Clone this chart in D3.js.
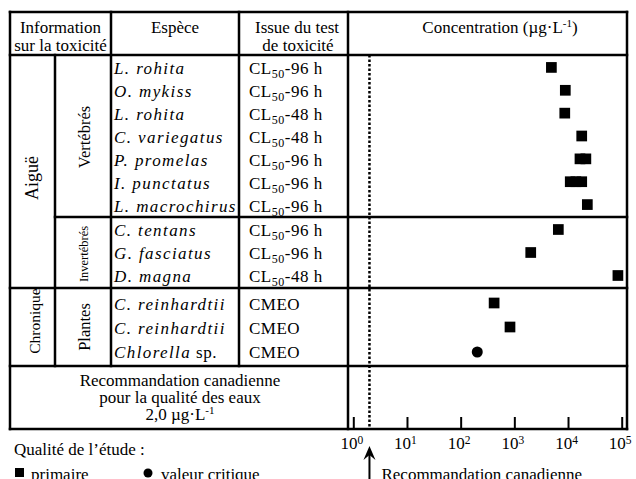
<!DOCTYPE html>
<html>
<head>
<meta charset="utf-8">
<script src="https://cdn.jsdelivr.net/npm/d3@7"></script>
<style>
  body { margin: 0; background: #fff; }
  svg text { font-family: "Liberation Serif", "Times New Roman", serif; fill: #000; }
</style>
</head>
<body>
<svg width="636" height="479"></svg>
<script>
// donnees
var durations = ["Aiguë", "Chronique"];
var subgroups = ["Vertébrés", "Invertébrés", "Plantes"];
var rowDuration = ["Aiguë","Aiguë","Aiguë","Aiguë","Aiguë","Aiguë","Aiguë","Aiguë","Aiguë","Aiguë","Chronique","Chronique","Chronique"];
var rowGroup = ["Vertébrés","Vertébrés","Vertébrés","Vertébrés","Vertébrés","Vertébrés","Vertébrés",
                "Invertébrés","Invertébrés","Invertébrés","Plantes","Plantes","Plantes"];
var species = ["L. rohita","O. mykiss","L. rohita","C. variegatus","P. promelas","I. punctatus","L. macrochirus",
               "C. tentans","G. fasciatus","D. magna","C. reinhardtii","C. reinhardtii","Chlorella"];
var speciesSuffix = ["","","","","","","","","","","","", " sp."];
var endpoints = ["CL50-96 h","CL50-96 h","CL50-48 h","CL50-48 h","CL50-96 h","CL50-96 h","CL50-96 h",
                 "CL50-96 h","CL50-96 h","CL50-48 h","CMEO","CMEO","CMEO"];
var concentrations = [[4900],[8900],[8700],[18000],[16700,21500],[11000,14000,18000],[22900],
                      [6600],[2020],[85000],[420],[830],[204]];
var quality = ["primaire","primaire","primaire","primaire","primaire","primaire","primaire",
               "primaire","primaire","primaire","primaire","primaire","valeur critique"];
var guideline = 2.0;
var tickValues = [1, 10, 100, 1000, 10000, 100000];

var svg = d3.select("svg");

// colonnes et lignes du tableau
var c0 = 10, c1 = 55, c2 = 111, c3 = 239, c4 = 348, c5 = 627;
var top0 = 12, head = 55, g1 = 217, g2 = 288, g3 = 366, bot = 429;

var groupRange = {
  "Vertébrés": [57, 217],
  "Invertébrés": [219, 288],
  "Plantes": [292, 364]
};
var bands = {};
subgroups.forEach(function(g) {
  var ids = [];
  rowGroup.forEach(function(r, i) { if (r == g) ids.push(i); });
  bands[g] = d3.scaleBand().domain(ids).range(groupRange[g]);
});
function rowY(i) {
  var b = bands[rowGroup[i]];
  return b(i) + b.bandwidth() / 2;
}

var x = d3.scaleLog().domain([1, 100000]).range([353.3, 621.7]);

// lignes du tableau
var lw = 2.5;
var lines = [
  [c0, top0, c5, top0], [c0, bot, c5, bot], [c0, top0, c0, bot], [c5, top0, c5, bot],
  [c0, head, c5, head], [c1, g1, c5, g1], [c0, g2, c5, g2], [c0, g3, c5, g3],
  [c1, head, c1, g3], [c2, top0, c2, g3], [c3, top0, c3, g3], [c4, top0, c4, bot]
];
svg.selectAll(".grid")
  .data(lines)
  .enter().append("line")
  .attr("x1", function(d) { return d[0]; })
  .attr("y1", function(d) { return d[1]; })
  .attr("x2", function(d) { return d[2]; })
  .attr("y2", function(d) { return d[3]; })
  .attr("stroke", "#000")
  .attr("stroke-width", lw)
  .attr("stroke-linecap", "square");

// en-tetes
var fs = 17;
function txt(s, xx, yy, anchor) {
  return svg.append("text").attr("x", xx).attr("y", yy)
    .attr("text-anchor", anchor || "middle")
    .style("font-size", fs + "px").text(s);
}
txt("Information", (c0 + c2) / 2, 33);
txt("sur la toxicité", (c0 + c2) / 2, 51);
txt("Espèce", (c2 + c3) / 2, 33);
txt("Issue du test", 297, 33);
txt("de toxicité", 298, 51);
var conc = txt("Concentration (µg·L", 500, 33);
conc.append("tspan").attr("dy", -6).style("font-size", "11px").text("-1");
conc.append("tspan").attr("dy", 6).text(")");

// etiquettes verticales
function vtxt(s, cx, cy, size) {
  svg.append("text")
    .attr("transform", "translate(" + cx + "," + cy + ") rotate(-90)")
    .attr("text-anchor", "middle")
    .attr("dy", "0.35em")
    .style("font-size", size + "px")
    .text(s);
}
vtxt(durations[0], 32, 178, 18);
vtxt(durations[1], 35, 321, 15.5);
vtxt(subgroups[0], 84, 137, 16.5);
vtxt(subgroups[1], 84, 254, 12.5);
vtxt(subgroups[2], 84, 327, 16.5);

// especes
var sp = svg.selectAll(".sp")
  .data(species)
  .enter().append("text")
  .attr("class", "sp")
  .attr("x", 114)
  .attr("y", function(d, i) { return rowY(i); })
  .attr("dy", "0.35em")
  .style("font-size", fs + "px")
  .style("letter-spacing", "1.4px");
sp.append("tspan").style("font-style", "italic").text(function(d) { return d; });
sp.append("tspan").style("letter-spacing", "0.6px").text(function(d, i) { return speciesSuffix[i]; });

// issue du test
var ep = svg.selectAll(".ep")
  .data(endpoints)
  .enter().append("text")
  .attr("class", "ep")
  .attr("x", 249)
  .attr("y", function(d, i) { return rowY(i); })
  .attr("dy", "0.35em")
  .style("font-size", fs + "px")
  .style("letter-spacing", "0.5px");
ep.each(function(d) {
  var t = d3.select(this);
  if (d.indexOf("CL50") == 0) {
    t.append("tspan").text("CL");
    t.append("tspan").attr("dy", 4).style("font-size", "12px").text("50");
    t.append("tspan").attr("dy", -4).text(d.slice(4));
  } else {
    t.text(d);
  }
});

// recommandation
txt("Recommandation canadienne", 180, 386);
txt("pour la qualité des eaux", 180, 403);
var rec = txt("2,0 µg·L", 180, 420);
rec.append("tspan").attr("dy", -6).style("font-size", "11px").text("-1");

// ligne pointillee de la recommandation
svg.append("line")
  .attr("x1", x(guideline)).attr("x2", x(guideline))
  .attr("y1", head).attr("y2", bot)
  .attr("stroke", "#000")
  .attr("stroke-width", 2.5)
  .attr("stroke-dasharray", "2.5,2");

// axe log
var axis = svg.append("g")
  .attr("transform", "translate(0," + bot + ")")
  .call(d3.axisBottom(x).tickValues(tickValues).tickSize(-12).tickPadding(8)
        .tickFormat(function(d) { return "10"; }));
axis.select(".domain").remove();
axis.selectAll(".tick line").attr("stroke", "#000").attr("stroke-width", 2);
axis.selectAll(".tick text")
  .style("font-size", "17px")
  .style("font-family", '"Liberation Serif", "Times New Roman", serif')
  .attr("dx", "-2")
  .each(function(d) {
    d3.select(this).append("tspan").attr("dy", "-0.4em").style("font-size", "11.5px")
      .text(Math.round(Math.log10(d)));
  });

// points
var pts = [];
concentrations.forEach(function(vals, i) {
  vals.forEach(function(v) { pts.push({ row: i, v: v, q: quality[i] }); });
});
var sq = 10.7;
svg.selectAll(".sq")
  .data(pts.filter(function(d) { return d.q == "primaire"; }))
  .enter().append("rect")
  .attr("class", "sq")
  .attr("x", function(d) { return x(d.v) - sq / 2; })
  .attr("y", function(d) { return rowY(d.row) - 1 - sq / 2; })
  .attr("width", sq).attr("height", sq)
  .attr("fill", "#000");
svg.selectAll(".dot")
  .data(pts.filter(function(d) { return d.q == "valeur critique"; }))
  .enter().append("circle")
  .attr("class", "dot")
  .attr("cx", function(d) { return x(d.v); })
  .attr("cy", function(d) { return rowY(d.row); })
  .attr("r", 5.5)
  .attr("fill", "#000");

// legende
txt("Qualité de l’étude :", 14, 455, "start");
svg.append("rect").attr("x", 15).attr("y", 468).attr("width", 9).attr("height", 9).attr("fill", "#000");
txt(quality[0], 31, 480, "start");
svg.append("circle").attr("cx", 148).attr("cy", 473).attr("r", 4.5).attr("fill", "#000");
txt(quality[12], 161, 480, "start");

// fleche
var ax = x(guideline);
svg.append("line").attr("x1", ax).attr("x2", ax).attr("y1", 479).attr("y2", 452)
  .attr("stroke", "#000").attr("stroke-width", 2);
svg.append("path")
  .attr("d", "M" + (ax - 6) + ",460 L" + ax + ",446 L" + (ax + 6) + ",460 L" + ax + ",455 Z")
  .attr("fill", "#000");
txt("Recommandation canadienne", ax + 12, 480, "start");
</script>
</body>
</html>
